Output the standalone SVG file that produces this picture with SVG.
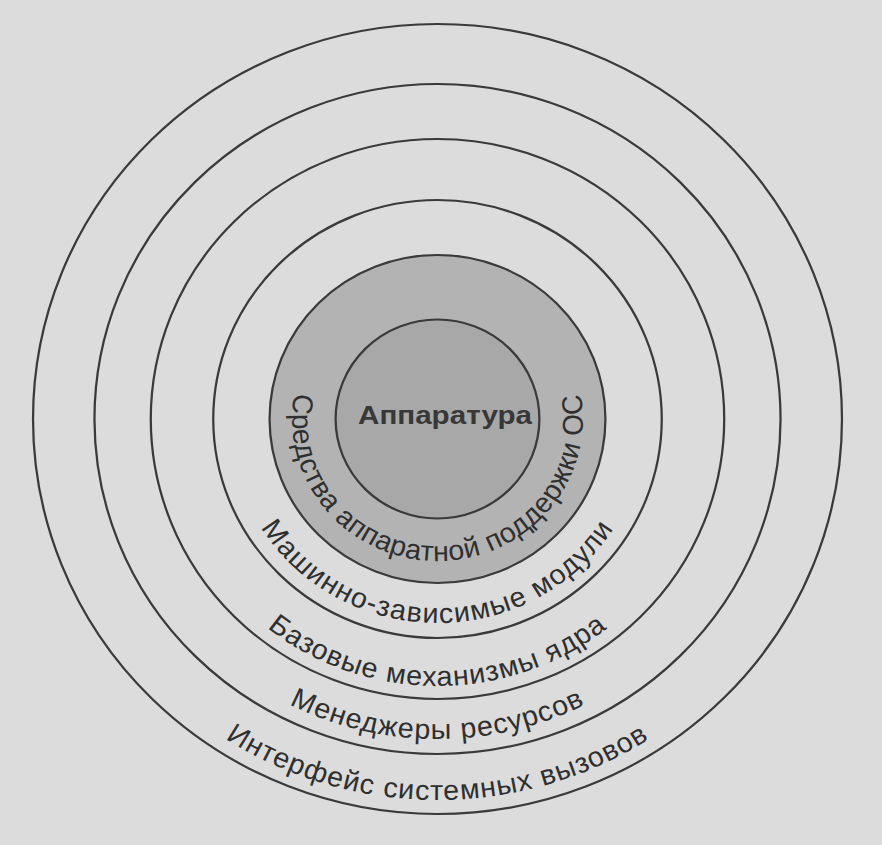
<svg xmlns="http://www.w3.org/2000/svg" width="882" height="845" viewBox="0 0 882 845">
<style>
.ring{fill:none;stroke:#3a3a3a;stroke-width:2.2}
.lbl{font-family:"Liberation Sans",Arial,sans-serif;font-size:28px;fill:#2f2f2f;letter-spacing:1px}
.core{font-family:"Liberation Sans",Arial,sans-serif;font-size:26px;font-weight:bold;fill:#383838}
</style>
<defs>
<path id="p142" d="M0,-142 A142,142 0 0 0 0,142 A142,142 0 0 0 0,-142"/>
<path id="p204" d="M0,-204 A204,204 0 0 0 0,204 A204,204 0 0 0 0,-204"/>
<path id="p267" d="M0,-267 A267,267 0 0 0 0,267 A267,267 0 0 0 0,-267"/>
<path id="p320" d="M0,-320 A320,320 0 0 0 0,320 A320,320 0 0 0 0,-320"/>
<path id="p381" d="M0,-381 A381,381 0 0 0 0,381 A381,381 0 0 0 0,-381"/>
</defs>
<rect width="882" height="845" fill="#dcdcdc"/>
<g id="connectors"></g>
<g transform="translate(437.5 419) scale(1.024 1)">
  <g id="syscall-interface">
    <circle r="395" class="ring"/>
    <text class="lbl"><textPath href="#p381" startOffset="50%" text-anchor="middle">Интерфейс системных вызовов</textPath></text>
  </g>
  <g id="resource-managers">
    <circle r="335" class="ring"/>
    <text class="lbl"><textPath href="#p320" startOffset="50%" text-anchor="middle">Менеджеры ресурсов</textPath></text>
  </g>
  <g id="kernel-base">
    <circle r="280" class="ring"/>
    <text class="lbl"><textPath href="#p267" startOffset="50%" text-anchor="middle">Базовые механизмы ядра</textPath></text>
  </g>
  <g id="machine-dependent">
    <circle r="219" class="ring"/>
    <text class="lbl" style="letter-spacing:1.3px"><textPath href="#p204" startOffset="50%" text-anchor="middle">Машинно-зависимые модули</textPath></text>
  </g>
  <g id="hw-support">
    <circle r="164" class="ring" style="fill:#b3b3b3"/>
    <text class="lbl" style="letter-spacing:0.5px"><textPath href="#p142" startOffset="50%" text-anchor="middle">Средства аппаратной поддержки ОС</textPath></text>
  </g>
  <g id="hardware-circle">
    <circle r="99.5" class="ring" style="fill:#a8a8a8"/>
  </g>
</g>
<g id="hardware">
  <text class="core" x="445" y="424" text-anchor="middle" textLength="174" lengthAdjust="spacingAndGlyphs">Аппаратура</text>
</g>
</svg>
